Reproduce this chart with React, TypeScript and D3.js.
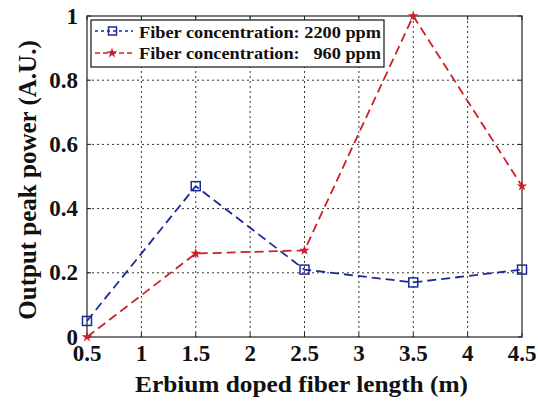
import React from "react";
import * as d3 from "d3";

const lengths = [0.5, 1.5, 2.5, 3.5, 4.5];
const series2200 = [0.05, 0.47, 0.21, 0.17, 0.21];
const series960 = [0.0, 0.26, 0.27, 1.0, 0.47];
const xTicks = [0.5, 1, 1.5, 2, 2.5, 3, 3.5, 4, 4.5];
const yTicks = [0, 0.2, 0.4, 0.6, 0.8, 1];
const legendLabels = ["Fiber concentration: 2200 ppm", "Fiber concentration:   960 ppm"];

const W = 538, H = 401;
const M = { left: 87, right: 522, top: 16, bottom: 337 };
const BLUE = "#1a2a9c";
const RED = "#cc1f2a";
const TXT: React.CSSProperties = { fontFamily: "Liberation Serif", fontWeight: 700 };

export default function App() {
  const x = d3.scaleLinear().domain([0.5, 4.5]).range([M.left, M.right]);
  const y = d3.scaleLinear().domain([0, 1]).range([M.bottom, M.top]);
  const line = d3.line<number>().x((_, i) => x(lengths[i])).y(d => y(d));
  const star = d3.symbol().type(d3.symbolStar).size(34)() as string;

  return (
    <svg width={W} height={H} style={{ position: "absolute", left: 0, top: 0, background: "#fff" }}>
      <rect x={0} y={0} width={W} height={H} fill="#fff" />
      {xTicks.slice(1, -1).map(t => (
        <line key={"gx" + t} x1={x(t)} x2={x(t)} y1={M.top} y2={M.bottom}
          stroke="#333" strokeWidth={1} strokeDasharray="2,3" />
      ))}
      {yTicks.slice(1, -1).map(t => (
        <line key={"gy" + t} x1={M.left} x2={M.right} y1={y(t)} y2={y(t)}
          stroke="#333" strokeWidth={1} strokeDasharray="2,3" />
      ))}
      <rect x={M.left} y={M.top} width={M.right - M.left} height={M.bottom - M.top}
        fill="none" stroke="#222" strokeWidth={1.2} />
      {xTicks.map(t => (
        <g key={"xt" + t}>
          <line x1={x(t)} x2={x(t)} y1={M.bottom} y2={M.bottom - 4} stroke="#222" />
          <line x1={x(t)} x2={x(t)} y1={M.top} y2={M.top + 4} stroke="#222" />
          <text x={x(t)} y={361} textAnchor="middle" fontSize={23} fill="#111" style={TXT}>{t}</text>
        </g>
      ))}
      {yTicks.map(t => (
        <g key={"yt" + t}>
          <line x1={M.left} x2={M.left + 4} y1={y(t)} y2={y(t)} stroke="#222" />
          <line x1={M.right} x2={M.right - 4} y1={y(t)} y2={y(t)} stroke="#222" />
          <text x={78} y={y(t) + 7.5} textAnchor="end" fontSize={23} fill="#111" style={TXT}>{t}</text>
        </g>
      ))}
      <text x={301.5} y={392} textAnchor="middle" fontSize={24} fill="#111" style={TXT}
        textLength={333} lengthAdjust="spacingAndGlyphs">
        Erbium doped fiber length (m)
      </text>
      <text transform="translate(36,180) rotate(-90)" textAnchor="middle"
        fontSize={25} fill="#111" style={TXT}>
        Output peak power (A.U.)
      </text>
      <path d={line(series960) as string} fill="none" stroke={RED} strokeWidth={1.8} strokeDasharray="9,5" />
      <path d={line(series2200) as string} fill="none" stroke={BLUE} strokeWidth={1.8} strokeDasharray="9,5" />
      {series2200.map((v, i) => (
        <rect key={"b" + i} x={x(lengths[i]) - 4.5} y={y(v) - 4.5} width={9} height={9}
          fill="none" stroke={BLUE} strokeWidth={1.5} />
      ))}
      {series960.map((v, i) => (
        <path key={"r" + i} d={star} transform={`translate(${x(lengths[i])},${y(v)})`} fill={RED} />
      ))}
      <rect x={91} y={20} width={293} height={47} fill="#fff" stroke="#111" strokeWidth={1.2} />
      <line x1={95} x2={133} y1={31} y2={31} stroke={BLUE} strokeWidth={1.5} strokeDasharray="3,3" />
      <rect x={108.5} y={27} width={8} height={8} fill="none" stroke={BLUE} strokeWidth={1.5} />
      <line x1={95} x2={133} y1={53} y2={53} stroke={RED} strokeWidth={1.5} strokeDasharray="5,3" />
      <path d={star} transform="translate(112,53)" fill={RED} />
      <text x={139} y={37.5} fontSize={17} fill="#111" style={{ ...TXT, whiteSpace: "pre" }}
        textLength={242} lengthAdjust="spacingAndGlyphs">{legendLabels[0]}</text>
      <text x={139} y={59} fontSize={17} fill="#111" style={{ ...TXT, whiteSpace: "pre" }}
        textLength={242} lengthAdjust="spacingAndGlyphs">{legendLabels[1]}</text>
    </svg>
  );
}
